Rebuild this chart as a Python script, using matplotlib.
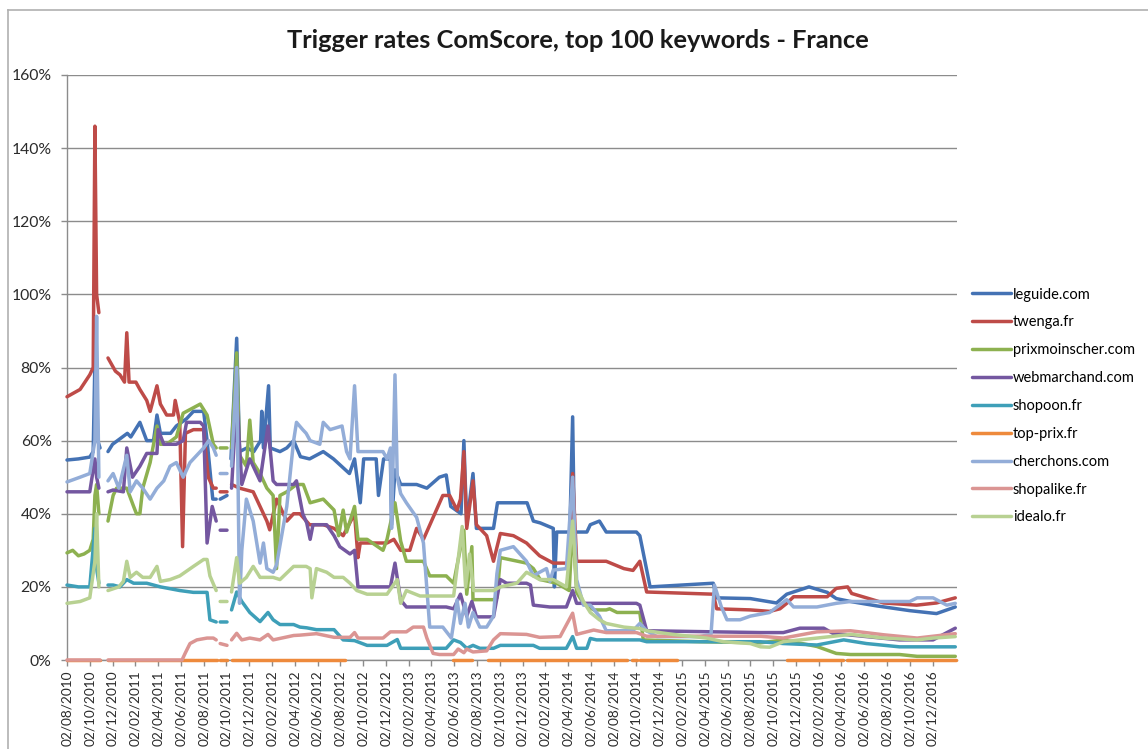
import numpy as np
import matplotlib
matplotlib.use('Agg')
import matplotlib.pyplot as plt
from matplotlib.lines import Line2D

plt.rcParams['font.family'] = ['Lato', 'DejaVu Sans']

GAP = (np.nan, np.nan)

# x = months since 02/08/2010, y = trigger rate in %
leguide = [(0, 54.7), (1.0, 55), (2.0, 55.5), (2.3, 57), (2.5, 90), (2.7, 60), (2.9, 58), GAP,
           (3.6, 57), (4.0, 59), (5.3, 62), (5.6, 61), (6.4, 65), (7.0, 60), (7.6, 60), (7.9, 67),
           (8.2, 62), (9.1, 62), (9.6, 64), (10.5, 66), (11.1, 68), (12.0, 68), (12.3, 60),
           (12.8, 44), (13.1, 44), GAP, (13.45, 44), (14.05, 45), GAP,
           (14.4, 55), (14.9, 88), (15.15, 57), (15.8, 58), (16.4, 57), (17.0, 60), (17.1, 68),
           (17.25, 58), (17.7, 75), (17.85, 58), (18.7, 57), (19.3, 58), (19.9, 60), (20.5, 55.6),
           (21.3, 55), (22.5, 57), (23.4, 55), (24.1, 53), (24.8, 51), (25.25, 55), (25.75, 43),
           (26.05, 55), (27.15, 55), (27.35, 45), (27.8, 55), (28.4, 55), (28.5, 37), (28.8, 52),
           (29.3, 48), (30.7, 48), (31.6, 47), (32.7, 50), (33.3, 50.6), (33.7, 42), (34.6, 40),
           (34.85, 60), (35.1, 37), (35.65, 51), (35.95, 36), (37.45, 36), (37.8, 43), (40.4, 43),
           (40.95, 38), (41.55, 37.5), (42.7, 36), (42.8, 20), (43.0, 35), (44.15, 35), (44.4, 66.5),
           (44.55, 35), (45.65, 35), (45.95, 37), (46.75, 38), (47.35, 35), (50.0, 35), (50.3, 34),
           (51.2, 20), (56.75, 21), (57.05, 17), (60.0, 16.8), (62.3, 15.6), (63.2, 18), (65.15, 20),
           (66.75, 18.5), (67.55, 16.8), (68.8, 16), (71.1, 14.8), (74.0, 13.5), (76.35, 12.7),
           (78.0, 14.5)]

twenga = [(0, 72), (1.15, 74), (2.0, 78), (2.3, 80), (2.45, 146), (2.6, 100), (2.8, 95), GAP,
          (3.6, 82.6), (4.25, 79), (4.65, 78), (5.05, 76), (5.25, 89.5), (5.45, 76), (6.05, 76),
          (6.4, 74), (7.0, 71), (7.3, 68), (7.9, 75), (8.2, 70), (8.75, 67), (9.35, 67), (9.5, 71),
          (9.9, 65), (10.15, 31), (10.4, 62), (11.1, 63), (12.0, 63), (12.4, 50), (12.85, 47),
          (13.1, 47), GAP, (13.45, 46), (14.05, 46), GAP,
          (14.45, 48), (15.15, 47), (16.35, 46), (16.95, 42), (17.55, 38), (17.8, 35.6), (18.4, 44),
          (19.3, 38), (19.9, 40), (20.45, 40), (21.3, 37), (22.5, 37), (23.45, 36), (24.25, 34),
          (25.25, 40), (25.55, 28), (25.75, 32), (28.1, 32), (28.7, 33), (29.3, 30), (30.1, 30),
          (30.7, 36), (31.3, 33), (32.15, 39), (33.0, 45), (33.6, 45), (34.25, 41), (34.55, 44),
          (34.85, 57), (35.1, 36), (35.65, 49), (35.95, 37), (36.85, 34), (37.45, 27), (38.05, 34.6),
          (39.2, 34), (40.35, 32), (41.5, 28.5), (42.4, 27), (42.7, 26.5), (44.1, 26.5), (44.4, 51),
          (44.75, 27), (47.35, 27), (48.9, 25), (49.7, 24.5), (50.3, 27), (50.9, 18.6), (56.75, 18),
          (57.05, 14), (60.0, 13.7), (61.7, 13.3), (62.6, 14), (63.2, 15.5), (63.8, 17.3),
          (66.75, 17.3), (67.55, 19.6), (68.55, 20), (68.9, 18.2), (70.2, 17), (71.7, 15.6),
          (74.6, 15), (76.35, 15.6), (78.0, 17)]

prixmoinscher = [(0, 29.3), (0.5, 30), (1.0, 28.5), (1.5, 29), (2.0, 30), (2.3, 33), (2.45, 45),
                 (2.6, 48), (2.8, 40), GAP,
                 (3.6, 38), (4.05, 45), (4.35, 47), (4.95, 47), (5.25, 47), (5.85, 42), (6.1, 40),
                 (6.4, 40), (6.65, 47), (7.3, 54), (7.9, 64), (8.2, 59), (8.75, 59), (9.6, 61),
                 (10.2, 67.5), (11.1, 69), (11.7, 70), (12.3, 67), (12.85, 59), (13.1, 58), GAP,
                 (13.45, 58), (14.05, 58), GAP,
                 (14.45, 58), (14.9, 84), (15.15, 56), (15.75, 53), (16.05, 65.6), (16.35, 54),
                 (16.95, 51), (17.55, 47), (18.1, 45), (18.4, 25), (18.7, 45), (19.3, 46), (20.15, 48),
                 (20.75, 48), (21.35, 43), (22.5, 44), (23.45, 41), (23.85, 34), (24.25, 41),
                 (24.55, 35), (25.25, 42), (25.55, 33), (26.35, 33), (27.75, 30), (28.1, 33),
                 (28.8, 43), (29.3, 32.5), (29.8, 27), (31.3, 27), (31.85, 23), (33.3, 23), (33.95, 21),
                 (34.85, 35.5), (35.1, 18), (35.55, 31), (35.65, 16.5), (37.45, 16.5), (37.75, 17),
                 (38.05, 28), (40.35, 26.5), (40.95, 25), (41.55, 22), (43.0, 21), (44.1, 19),
                 (44.4, 38), (44.75, 18.5), (45.35, 15.5), (46.25, 13.7), (47.35, 13.7), (47.65, 14),
                 (48.3, 13), (50.3, 13), (50.6, 5.5), (55.55, 5), (60.9, 4.7), (62.9, 5.5),
                 (65.85, 3.7), (67.55, 1.8), (68.8, 1.5), (73.1, 1.5), (74.65, 1), (78.0, 1)]

webmarchand = [(0, 46), (2.0, 46), (2.45, 55), (2.6, 50), (2.8, 47), GAP,
               (3.6, 46), (4.05, 46.5), (4.95, 46), (5.25, 58), (5.75, 50), (6.4, 53), (7.0, 56.5),
               (7.9, 56.5), (8.0, 63), (8.5, 59), (9.6, 59), (10.2, 60), (10.5, 65), (11.7, 65),
               (12.0, 64), (12.3, 32), (12.75, 42), (13.1, 38), GAP, (13.45, 35.5), (14.05, 35.5), GAP,
               (14.45, 47), (14.9, 72), (15.35, 48), (16.05, 55), (16.95, 49), (17.65, 64), (18.1, 49),
               (18.4, 48), (19.9, 48), (20.15, 49), (20.7, 40), (21.05, 37.5), (21.35, 33), (21.6, 37),
               (22.8, 37), (23.45, 34), (23.95, 31), (24.85, 29), (25.25, 30), (25.55, 20), (28.4, 20),
               (28.8, 26.5), (29.3, 16.4), (29.8, 14.5), (33.3, 14.5), (33.95, 14), (34.55, 18),
               (35.1, 12), (35.55, 16), (35.95, 11.8), (37.45, 11.8), (38.05, 22), (38.6, 21),
               (40.35, 21), (40.7, 20.5), (40.95, 15), (42.4, 14.5), (43.85, 14.5), (44.4, 19),
               (44.75, 15.5), (50.0, 15.5), (50.3, 15), (50.9, 8), (60.9, 7.5), (62.9, 7.5),
               (64.35, 8.7), (66.45, 8.7), (67.25, 7.3), (70.2, 6.4), (73.1, 5.5), (76.05, 5.5),
               (78.0, 8.7)]

shopoon = [(0, 20.5), (1.0, 20), (2.0, 20), (2.45, 36), (2.6, 25), (2.8, 21), GAP,
           (3.6, 20.5), (4.05, 20.5), (4.65, 20), (5.25, 22), (5.85, 21), (7.0, 21), (8.2, 20),
           (9.9, 19), (11.1, 18.5), (12.3, 18.5), (12.55, 11), (13.1, 10.4), GAP,
           (13.45, 10.4), (14.05, 10.4), GAP,
           (14.45, 13.7), (14.9, 18.6), (15.35, 16), (16.05, 13), (16.95, 10.5), (17.65, 13),
           (18.1, 11), (18.7, 9.7), (19.9, 9.7), (20.45, 9), (21.05, 8.8), (21.9, 8.3), (23.45, 8.3),
           (24.25, 5.5), (25.25, 5.3), (26.35, 4), (28.1, 4), (29.0, 5.6), (29.3, 3.2), (33.3, 3.2),
           (33.95, 5.5), (34.55, 4.8), (35.1, 3.2), (35.65, 4), (36.25, 3.2), (37.45, 3.2),
           (38.05, 4), (40.95, 4), (41.5, 3.2), (43.85, 3.2), (44.4, 6.4), (44.75, 3.2), (45.65, 3.2),
           (45.95, 5.9), (46.5, 5.5), (50.3, 5.5), (50.9, 5), (60.9, 5), (62.9, 4.5), (65.85, 4.1),
           (68.2, 5.5), (70.2, 4.5), (73.1, 3.6), (78.0, 3.6)]

top_prix = [(0, 0), (2.9, 0), GAP, (3.6, 0), (13.17, 0), GAP, (13.43, 0), (14.05, 0), GAP,
            (14.49, 0), (24.4, 0), GAP, (33.9, 0), (35.56, 0), GAP, (36.96, 0), (49.17, 0), GAP,
            (49.6, 0), (50.04, 0), GAP, (50.3, 0), (53.55, 0), GAP, (63.2, 0), (68.1, 0), GAP,
            (68.5, 0), (78.1, 0)]

cherchons = [(0, 48.7), (1.15, 50), (2.0, 51), (2.45, 60), (2.6, 94), (2.8, 50), GAP,
             (3.6, 49), (4.05, 51), (4.55, 47), (5.25, 56), (5.55, 46), (6.1, 49), (6.65, 47),
             (7.3, 44), (7.9, 47), (8.5, 49), (9.05, 53), (9.6, 54), (10.2, 50), (10.8, 54),
             (11.4, 56), (12.0, 58), (12.45, 60), (12.85, 58), (13.1, 56), GAP,
             (13.45, 51), (14.05, 51), GAP,
             (14.45, 53), (14.9, 80), (15.15, 15.5), (15.35, 30), (15.75, 44), (16.35, 38),
             (16.95, 26.5), (17.25, 32), (17.55, 25), (18.1, 24), (18.4, 26), (19.3, 42), (19.9, 60),
             (20.15, 65), (20.7, 63), (21.0, 62), (21.35, 60), (22.2, 59), (22.5, 65), (23.1, 63),
             (24.15, 64), (24.55, 57), (24.85, 55), (25.25, 75), (25.55, 57), (27.75, 57), (28.1, 55),
             (28.4, 58), (28.5, 36), (28.8, 78), (29.0, 50), (29.3, 45.5), (29.8, 43), (30.7, 39),
             (31.3, 32), (31.85, 9), (33.0, 9), (33.75, 6), (34.25, 16.4), (34.55, 10), (34.95, 15.5),
             (35.25, 9), (35.65, 13), (36.25, 9), (36.85, 9), (37.45, 12), (37.75, 23.6), (38.05, 30),
             (39.2, 31), (40.35, 27), (40.95, 23), (41.5, 24), (42.1, 25), (42.4, 21.5), (42.7, 24.6),
             (43.85, 25), (44.4, 50), (44.75, 22), (45.35, 15), (45.95, 15), (46.75, 12), (47.35, 8),
             (49.7, 8), (50.3, 10), (50.9, 8), (51.8, 6.4), (55.55, 6.4), (56.55, 7), (56.85, 20.5),
             (57.45, 14.6), (57.95, 11), (59.1, 11), (60.0, 12), (61.7, 13), (63.2, 16.5),
             (63.8, 14.5), (65.85, 14.5), (67.55, 15.5), (68.8, 16), (71.7, 16), (74.0, 16),
             (74.65, 17), (76.05, 17), (77.25, 15), (78.0, 15.5)]

shopalike = [(0, 0), (2.9, 0), GAP, (3.6, 0), (10.1, 0), (10.4, 2), (10.8, 4.5), (11.4, 5.5),
             (12.3, 6), (12.85, 6), (13.1, 5.5), GAP, (13.45, 4.5), (14.05, 4), GAP,
             (14.45, 5.5), (14.9, 7.3), (15.35, 5.5), (16.05, 6), (16.95, 5.5), (17.65, 7),
             (18.1, 5.5), (19.9, 6.7), (20.45, 6.8), (21.9, 7.2), (23.45, 6.2), (24.85, 6.2),
             (25.25, 7.5), (25.55, 6), (27.75, 6), (28.4, 7.7), (29.8, 7.7), (30.4, 9), (31.3, 9),
             (31.6, 6), (32.15, 1.8), (32.7, 1.5), (33.95, 1.5), (34.35, 3), (34.85, 2), (35.1, 3),
             (35.65, 2.2), (36.85, 2.5), (37.45, 5.5), (38.05, 7.2), (40.35, 7), (41.5, 6.2),
             (43.3, 6.4), (44.4, 12.8), (44.75, 7), (46.25, 8.2), (47.35, 7.5), (50.0, 7.5),
             (50.9, 6.5), (60.9, 6.5), (62.9, 6), (65.85, 7.7), (68.8, 8), (71.7, 6.9), (74.65, 6),
             (78.0, 7.2)]

idealo = [(0, 15.5), (1.15, 16), (2.0, 17), (2.45, 27), (2.6, 40), (2.8, 20), GAP,
          (3.6, 19), (4.55, 20), (4.95, 21.5), (5.25, 27), (5.55, 22.6), (6.1, 24), (6.65, 22.6),
          (7.3, 22.6), (7.9, 25.6), (8.2, 21.5), (9.05, 22), (9.9, 23), (11.1, 25.6), (12.0, 27.5),
          (12.3, 27.5), (12.55, 23), (13.1, 19), GAP, (13.45, 16), (14.05, 16), GAP,
          (14.45, 18.6), (14.9, 28), (15.15, 21), (15.75, 22.6), (16.35, 25.6), (16.95, 22.6),
          (18.1, 22.6), (18.7, 22), (19.9, 25.6), (21.0, 25.6), (21.35, 25), (21.5, 17), (21.9, 25),
          (22.8, 24), (23.45, 22.6), (24.25, 22.6), (24.85, 21), (25.45, 19), (26.35, 18),
          (28.1, 18), (29.0, 22), (29.3, 15.5), (29.8, 19), (31.0, 17.5), (33.3, 17.5),
          (33.95, 17.5), (34.7, 36.5), (35.0, 20), (35.35, 29), (35.7, 19), (37.45, 19),
          (38.05, 20), (39.5, 21), (40.35, 24), (41.5, 22), (42.7, 22), (43.85, 20), (44.4, 38),
          (44.75, 20), (45.35, 16), (45.95, 13), (46.75, 11), (47.35, 10), (48.9, 9), (50.3, 8.6),
          (50.9, 8), (53.2, 7), (56.15, 6), (57.65, 5), (60.0, 4.5), (60.9, 3.6), (61.7, 3.5),
          (62.9, 5), (65.85, 6), (68.8, 7), (71.7, 6), (74.65, 5.5), (76.05, 6), (78.0, 6.4)]

series_names = ['leguide.com', 'twenga.fr', 'prixmoinscher.com', 'webmarchand.com', 'shopoon.fr',
                'top-prix.fr', 'cherchons.com', 'shopalike.fr', 'idealo.fr']
series_data = [leguide, twenga, prixmoinscher, webmarchand, shopoon,
               top_prix, cherchons, shopalike, idealo]
colors = ['#4472B4', '#BE4B48', '#8DB150', '#7457A0', '#3E9FB8',
          '#EE8A3C', '#93ADD8', '#DB9593', '#B8D192']

tick_labels = ['02/08/2010', '02/10/2010', '02/12/2010', '02/02/2011', '02/04/2011', '02/06/2011',
               '02/08/2011', '02/10/2011', '02/12/2011', '02/02/2012', '02/04/2012', '02/06/2012',
               '02/08/2012', '02/10/2012', '02/12/2012', '02/02/2013', '02/04/2013', '02/06/2013',
               '02/08/2013', '02/10/2013', '02/12/2013', '02/02/2014', '02/04/2014', '02/06/2014',
               '02/08/2014', '02/10/2014', '02/12/2014', '02/02/2015', '02/04/2015', '02/06/2015',
               '02/08/2015', '02/10/2015', '02/12/2015', '02/02/2016', '02/04/2016', '02/06/2016',
               '02/08/2016', '02/10/2016', '02/12/2016']
tick_months = np.arange(0, 2 * len(tick_labels), 2)
y_ticks = [0, 20, 40, 60, 80, 100, 120, 140, 160]

W, H = 1148, 749
fig = plt.figure(figsize=(W / 100, H / 100), dpi=100)
ax = fig.add_axes([67 / W, 1 - 660 / H, (957 - 67) / W, (660 - 75) / H])

grey = '#8C8C8C'
for name, data, col in zip(series_names, series_data, colors):
    arr = np.array(data, dtype=float)
    ax.plot(arr[:, 0], arr[:, 1], color=col, lw=2.5, label=name, clip_on=False,
            solid_joinstyle='round', solid_capstyle='round', zorder=3)

ax.set_xlim(0, 78.15)
ax.set_ylim(0, 160)
ax.set_yticks(y_ticks)
ax.set_yticklabels([f'{v}%' for v in y_ticks])
ax.set_xticks(tick_months)
ax.set_xticklabels(tick_labels, rotation=90, va='top', ha='center')
ax.yaxis.grid(True, color=grey, lw=1.0, zorder=0)
ax.set_axisbelow(True)
for side in ['top', 'right']:
    ax.spines[side].set_visible(False)
for side in ['left', 'bottom']:
    ax.spines[side].set_color(grey)
    ax.spines[side].set_linewidth(1.0)
    ax.spines[side].set_zorder(1)
ax.tick_params(axis='y', length=4.5, color=grey, width=1.0, labelsize=11.3, labelcolor='#2b2b2b', pad=6.5)
ax.tick_params(axis='x', length=4.5, color=grey, width=1.0, labelsize=9.8, labelcolor='#2b2b2b', pad=3)

fig.text(578 / W, 1 - 40 / H, 'Trigger rates ComScore, top 100 keywords - France',
         ha='center', va='center', fontsize=18.3, fontweight='bold', color='#1a1a1a')

fig.legend(loc='center left', bbox_to_anchor=(972 / W, 1 - 406 / H), frameon=False,
           fontsize=10.5, handlelength=2.7, handletextpad=0.1, labelspacing=0.95,
           borderaxespad=0, borderpad=0)

# chart border
fig.add_artist(Line2D([8 / W, 8 / W], [0, 1 - 10 / H], color='#B0B0B0', lw=1.2,
                      transform=fig.transFigure))
fig.add_artist(Line2D([8 / W, 1], [1 - 10 / H, 1 - 10 / H], color='#B0B0B0', lw=1.2,
                      transform=fig.transFigure))

fig.savefig('out.png', dpi=100)
